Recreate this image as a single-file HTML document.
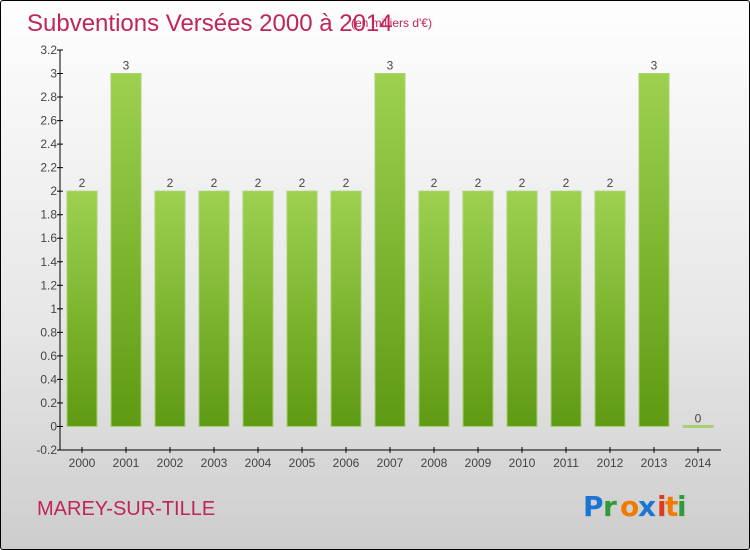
<!DOCTYPE html>
<html><head><meta charset="utf-8"><style>
body{margin:0;}
#wrap{width:748px;height:548px;border:1px solid #000;border-radius:3px;background:linear-gradient(#fefefe,#e6e6e6 60%,#cdcdcd);position:relative;overflow:hidden;font-family:"Liberation Sans",sans-serif;}
</style></head><body>
<div id="wrap">
<svg width="748" height="548">
<defs><linearGradient id="g" x1="0" y1="0" x2="0" y2="1"><stop offset="0" stop-color="#9dd14f"/><stop offset="1" stop-color="#5f9a14"/></linearGradient></defs>
<text x="26" y="30" font-size="24" fill="#c0245a">Subventions Versées 2000 à 2014</text>
<text x="350" y="26" font-size="12" fill="#c0245a">(en milliers d'€)</text>
<text x="36" y="514" font-size="20" fill="#c0245a">MAREY-SUR-TILLE</text>
<g font-size="28" font-weight="bold" font-family="'DejaVu Sans',sans-serif">
<text x="582" y="515" fill="#1a76d2">P</text><text x="602" y="515" fill="#2e9a3c">r</text><text x="619" y="515" fill="#f07b00">o</text><text x="637" y="515" fill="#1a76d2">x</text><text x="656" y="515" fill="#e03a1a">i</text><text x="664" y="515" fill="#f07b00">t</text><text x="676" y="515" fill="#2e9a3c">i</text></g>
<g id="axes"></g><g id="bars"></g>
</svg></div>
<script>
const categories=["2000","2001","2002","2003","2004","2005","2006","2007","2008","2009","2010","2011","2012","2013","2014"];
const values=[2,3,2,2,2,2,2,3,2,2,2,2,2,3,0];
const labels=["2","3","2","2","2","2","2","3","2","2","2","2","2","3","0"];
const yTicks=[-0.2,0,0.2,0.4,0.6,0.8,1,1.2,1.4,1.6,1.8,2,2.2,2.4,2.6,2.8,3,3.2];
const yTickLabels=["-0.2","0","0.2","0.4","0.6","0.8","1","1.2","1.4","1.6","1.8","2","2.2","2.4","2.6","2.8","3","3.2"];
const NS="http://www.w3.org/2000/svg";
const y=v=>449-(v+0.2)/3.4*400;
const x=i=>81+i*44;
function mk(t,a,p){const e=document.createElementNS(NS,t);for(const k in a)e.setAttribute(k,a[k]);p.appendChild(e);return e;}
const ax=document.getElementById('axes'),bg=document.getElementById('bars');
const yl=mk('line',{x1:59,y1:49,x2:59,y2:449,stroke:'#000'},ax);


const xl=mk('line',{x1:59,y1:449,x2:720,y2:449,stroke:'#000'},ax);


yTicks.forEach((v,i)=>{mk('line',{x1:56,x2:62,y1:y(v),y2:y(v),stroke:'#000'},ax);
const t=mk('text',{x:56,y:y(v)+4,'text-anchor':'end','font-size':12,fill:'#444'},ax);t.textContent=yTickLabels[i];

});
categories.forEach((c,i)=>{mk('line',{x1:x(i),x2:x(i),y1:446,y2:452,stroke:'#000'},ax);
const t=mk('text',{x:x(i),y:466,'text-anchor':'middle','font-size':12,fill:'#444'},ax);t.textContent=c;


const v=values[i];const top=y(v),base=y(0);
const r=mk('rect',{x:x(i)-15,y:Math.min(top,base-1),width:30,height:Math.max(base-top,2),fill:v>0?'url(#g)':'#a8d070',stroke:'#a8d070','stroke-width':1},bg);


const l=mk('text',{x:x(i),y:top-4,'text-anchor':'middle','font-size':12,fill:'#444'},bg);l.textContent=labels[i];

});
</script></body></html>
